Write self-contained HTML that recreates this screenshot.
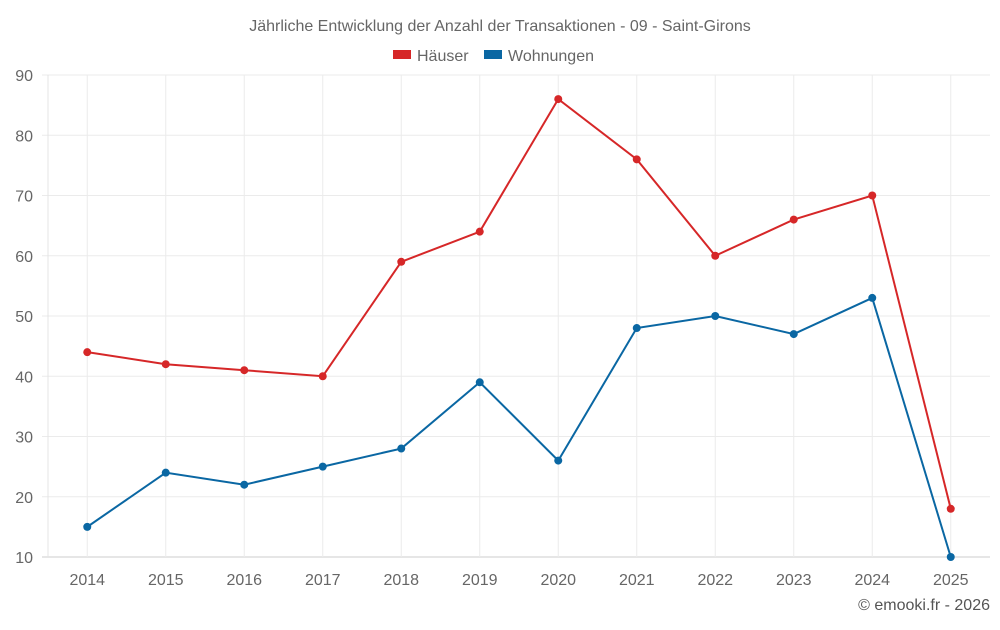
<!DOCTYPE html>
<html><head><meta charset="utf-8"><style>
body{margin:0;background:#fff;font-family:"Liberation Sans",sans-serif;}
svg text{font-family:"Liberation Sans",sans-serif;}
</style></head><body>
<svg id="c" width="1000" height="625">
<text x="500" y="31" text-anchor="middle" font-size="16" fill="#666">Jährliche Entwicklung der Anzahl der Transaktionen - 09 - Saint-Girons</text>
<g><rect x="393" y="50" width="18" height="9" fill="#d62728"/><text x="417" y="61" font-size="16" fill="#666">Häuser</text></g>
<g><rect x="484" y="50" width="18" height="9" fill="#0a67a3"/><text x="508" y="61" font-size="16" fill="#666">Wohnungen</text></g>
<g id="grid"></g><g id="series"></g>
<text x="990" y="610" text-anchor="end" font-size="16" fill="#555">© emooki.fr - 2026</text>
</svg>
<script>
const years=['2014','2015','2016','2017','2018','2019','2020','2021','2022','2023','2024','2025'];
const haeuser=[44,42,41,40,59,64,86,76,60,66,70,18];
const wohnungen=[15,24,22,25,28,39,26,48,50,47,53,10];
const yTicks=[10,20,30,40,50,60,70,80,90];
const L=48,R=990,T=75,B=557,ymin=10,ymax=90;
const bw=(R-L)/years.length;
const x=i=>L+bw*(i+0.5);
const y=v=>B-(v-ymin)/(ymax-ymin)*(B-T);
const NS='http://www.w3.org/2000/svg';
function mk(t,a,p){const e=document.createElementNS(NS,t);for(const k in a)e.setAttribute(k,a[k]);p.appendChild(e);return e;}
const g=document.getElementById('grid');
yTicks.forEach(v=>{
 const l=mk('line',{x1:L-6,x2:R,y1:y(v),y2:y(v),stroke:v===ymin?'#ccc':'#ebebeb'},g);
 
 
 const t=mk('text',{x:33,y:y(v)+6,'text-anchor':'end','font-size':16,fill:'#666'},g);t.textContent=v;
 
 
});
const ax=mk('line',{x1:L,x2:L,y1:T,y2:B,stroke:'#e4e4e4'},g);


years.forEach((yr,i)=>{
 const l=mk('line',{x1:x(i),x2:x(i),y1:T,y2:B,stroke:'#ebebeb'},g);
 
 
 const t=mk('text',{x:x(i),y:585,'text-anchor':'middle','font-size':16,fill:'#666'},g);t.textContent=yr;
 
 
});
const s=document.getElementById('series');
[[haeuser,'#d62728','haeuser'],[wohnungen,'#0a67a3','wohnungen']].forEach(([d,c,n])=>{
 const p=mk('polyline',{points:d.map((v,i)=>x(i)+','+y(v)).join(' '),fill:'none',stroke:c,'stroke-width':2},s);
 
 
 d.forEach((v,i)=>{
  const ci=mk('circle',{cx:x(i),cy:y(v),r:4,fill:c},s);
  
  
 });
});
</script>
</body></html>
